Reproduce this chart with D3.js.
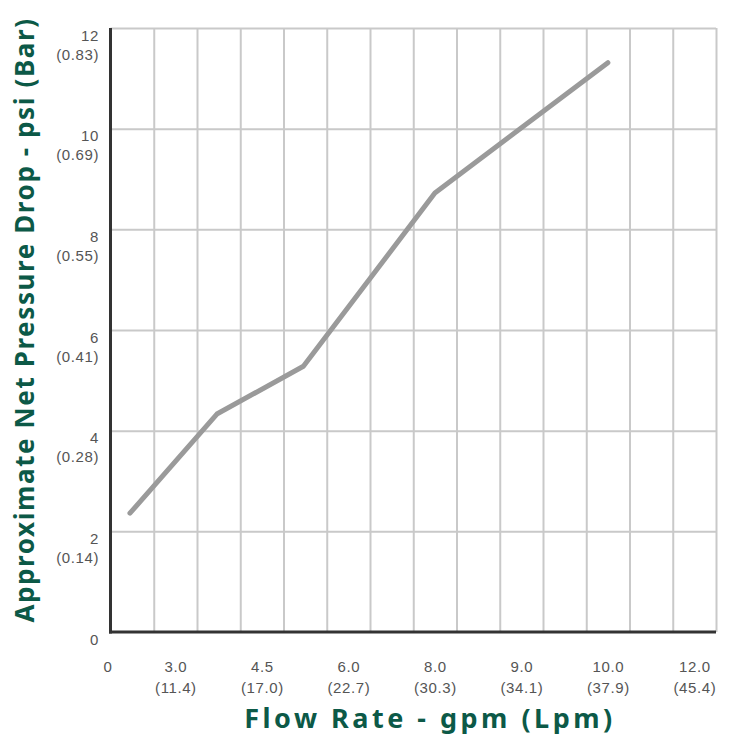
<!DOCTYPE html>
<html>
<head>
<meta charset="utf-8">
<script src="https://cdn.jsdelivr.net/npm/d3@7"></script>
<style>
  html, body { margin: 0; padding: 0; background: #fff; }
  svg { display: block; }
</style>
</head>
<body>
<svg id="chart" width="732" height="736"></svg>
<script>
// flow rate ticks (gpm) and their metric equivalents (Lpm)
const gpmTicks = [0, 3.0, 4.5, 6.0, 8.0, 9.0, 10.0, 12.0];
const lpmTicks = [null, '11.4', '17.0', '22.7', '30.3', '34.1', '37.9', '45.4'];
// pressure drop ticks (psi) and bar equivalents
const psiTicks = [0, 2, 4, 6, 8, 10, 12];
const barTicks = [null, '0.14', '0.28', '0.41', '0.55', '0.69', '0.83'];
// curve
const flow = [0.9, 3.72, 5.22, 8.0, 10.0];
const drop = [2.36, 4.33, 5.28, 8.72, 11.31];

(function () {
  const svg = d3.select('#chart');
  const left = 110.5, right = 716, top = 28, bottom = 632;
  const nCols = 14;
  const grid = '#c9c9c9', axisInk = '#333', label = '#555', green = '#0c5947';
  const tickFont = 'Liberation Sans, Arial, sans-serif';
  const titleFont = 'Noto Sans, sans-serif';

  // grid columns are evenly spaced; the gpm labels sit between them (not linear),
  // so the gpm scale is piecewise over the tick values
  const col = d3.scaleLinear().domain([0, nCols]).range([left, right]);
  const x = d3.scaleLinear()
    .domain(gpmTicks)
    .range(gpmTicks.map((d, i) => col(i === 0 ? 0 : 2 * i - 0.5)));
  const y = d3.scaleLinear().domain([0, 12]).range([bottom, top]);

  // vertical grid
  svg.append('g')
    .attr('transform', `translate(0,${top})`)
    .call(d3.axisBottom(col).tickValues(d3.range(1, nCols + 1)).tickSize(bottom - top).tickFormat(''))
    .call(g => g.select('.domain').remove())
    .call(g => g.selectAll('line').attr('stroke', grid).attr('stroke-width', 2));

  // horizontal grid
  svg.append('g')
    .attr('transform', `translate(${left},0)`)
    .call(d3.axisRight(y).tickValues(psiTicks.slice(1)).tickSize(right - left).tickFormat(''))
    .call(g => g.select('.domain').remove())
    .call(g => g.selectAll('line').attr('stroke', grid).attr('stroke-width', 2));

  // the curve
  const pts = flow.map((f, i) => [f, drop[i]]);
  svg.append('path')
    .datum(pts)
    .attr('d', d3.line().x(d => x(d[0])).y(d => y(d[1])))
    .attr('fill', 'none')
    .attr('stroke', '#9a9a9a')
    .attr('stroke-width', 5)
    .attr('stroke-linecap', 'round')
    .attr('stroke-linejoin', 'round');

  // main axes (dark)
  svg.append('line').attr('x1', left).attr('y1', top).attr('x2', left).attr('y2', bottom + 1.5)
    .attr('stroke', axisInk).attr('stroke-width', 3);
  svg.append('line').attr('x1', left - 1.5).attr('y1', bottom).attr('x2', right).attr('y2', bottom)
    .attr('stroke', axisInk).attr('stroke-width', 3);

  // y tick labels, psi with bar underneath
  const yAx = svg.append('g')
    .attr('transform', `translate(99,0)`)
    .call(d3.axisLeft(y).tickValues(psiTicks).tickSize(0).tickPadding(0).tickFormat(d => d));
  yAx.select('.domain').remove();
  yAx.selectAll('text')
    .attr('dy', null).attr('y', 12)
    .attr('font-family', tickFont).attr('font-size', 15).attr('fill', label)
    .attr('letter-spacing', '0.6px')
    .each(function (d, i) {
      if (barTicks[i]) {
        d3.select(this.parentNode).append('text')
          .attr('x', 0).attr('y', 31).attr('text-anchor', 'end')
          .attr('font-family', tickFont).attr('font-size', 15).attr('fill', label)
          .attr('letter-spacing', '0.6px')
          .text('(' + barTicks[i] + ')');
      }
    });

  // x tick labels, gpm with Lpm underneath
  const xAx = svg.append('g')
    .attr('transform', `translate(0,${bottom})`)
    .call(d3.axisBottom(x).tickValues(gpmTicks).tickSize(0).tickPadding(0)
      .tickFormat(d => d === 0 ? '0' : d.toFixed(1)));
  xAx.select('.domain').remove();
  xAx.selectAll('text')
    .attr('dy', null).attr('y', 40)
    .attr('font-family', tickFont).attr('font-size', 15).attr('fill', label)
    .attr('letter-spacing', '0.6px')
    .each(function (d, i) {
      if (i === 0) d3.select(this).attr('x', -3);
      if (lpmTicks[i]) {
        d3.select(this.parentNode).append('text')
          .attr('x', 0).attr('y', 61).attr('text-anchor', 'middle')
          .attr('font-family', tickFont).attr('font-size', 15).attr('fill', label)
          .attr('letter-spacing', '0.6px')
          .text('(' + lpmTicks[i] + ')');
      }
    });

  // axis titles
  svg.append('text')
    .attr('x', 430).attr('y', 728)
    .attr('text-anchor', 'middle')
    .attr('font-family', titleFont).attr('font-weight', 700).attr('font-size', 27)
    .attr('letter-spacing', '3.5px').attr('fill', green)
    .text('Flow Rate - gpm (Lpm)');

  svg.append('text')
    .attr('transform', `translate(34,320) rotate(-90)`)
    .attr('text-anchor', 'middle')
    .attr('font-family', titleFont).attr('font-weight', 700).attr('font-size', 26)
    .attr('letter-spacing', '1.6px').attr('fill', green)
    .text('Approximate Net Pressure Drop - psi (Bar)');
})();
</script>
</body>
</html>
